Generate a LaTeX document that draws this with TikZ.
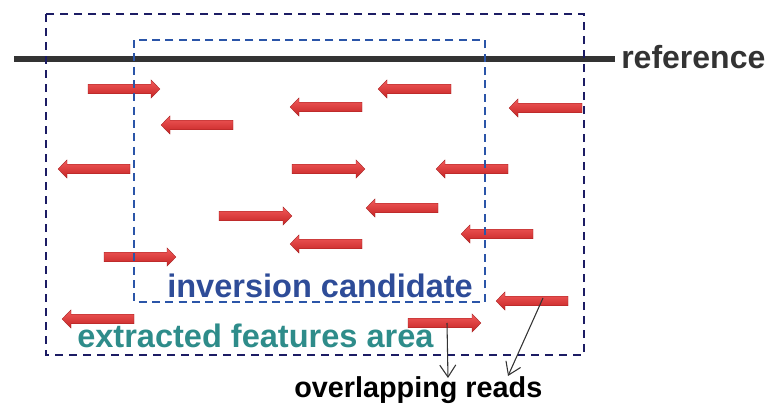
\documentclass[tikz,border=0pt]{standalone}
\usepackage{fontspec}
\setmainfont{Liberation Sans}
\usetikzlibrary{arrows.meta}

\definecolor{refgray}{HTML}{333333}
\definecolor{outernavy}{HTML}{1C1C64}
\definecolor{innerblue}{HTML}{2B55A8}
\definecolor{candblue}{HTML}{2E4C98}
\definecolor{areateal}{HTML}{2E8C8A}
\definecolor{readtop}{HTML}{F25A5A}
\definecolor{readbot}{HTML}{C42424}

\tikzset{
  outerbox/.style={draw=outernavy, line width=1.6pt, dash pattern=on 6pt off 4.5pt},
  innerbox/.style={draw=innerblue, line width=1.2pt, dash pattern=on 6pt off 4pt},
  refline/.style={draw=refgray, line width=4.5pt},
  pointer/.style={draw=refgray, line width=0.8pt, -{Straight Barb[length=9pt,width=12pt,line width=0.8pt]}},
  label/.style={inner sep=0pt, anchor=base west, font=\bfseries},
}

% a read: block arrow from tail x (#1) to tip x (#2) at height #3
\newcommand{\readarrow}[3]{%
  \pgfmathsetmacro\hb{#2>#1 ? #2-9 : #2+9}%
  \shade[top color=readtop, bottom color=readbot, draw=readbot!80!black, line width=0.2pt]
    (#1,#3-4.8) -- (\hb,#3-4.8) -- (\hb,#3-9.2) -- (#2,#3) -- (\hb,#3+9.2)
    -- (\hb,#3+4.8) -- (#1,#3+4.8) -- cycle;
}

\begin{document}
\begin{tikzpicture}[x=0.75pt, y=-0.75pt]
\useasboundingbox (0,0) rectangle (771,407);

% reference genome
\coordinate (refL) at (14,59);
\coordinate (refR) at (615,59);
\draw[refline] (refL) -- (refR);
\node[label, text=refgray, font=\bfseries\fontsize{24}{28}\selectfont] (reflab) at (621,68) {reference};

% reads
\readarrow{88}{160}{89}
\readarrow{233}{161}{125}
\readarrow{362}{290}{107}
\readarrow{451}{378}{89}
\readarrow{582}{509}{108}
\readarrow{130}{58}{169}
\readarrow{292}{365}{169}
\readarrow{508}{436}{169}
\readarrow{438}{366}{208}
\readarrow{219}{292}{216}
\readarrow{362}{290}{244}
\readarrow{533}{461}{234}
\readarrow{104}{176}{257}
\readarrow{568}{496}{301}
\readarrow{408}{481}{323}
\readarrow{134}{62}{319}

% areas
\draw[outerbox] (46,14) rectangle (584,355);
\draw[innerbox] (134,40) rectangle (485,302);

\node[label, text=candblue, font=\bfseries\fontsize{24.4}{28}\selectfont] (cand) at (167,297) {inversion candidate};
\node[label, text=areateal, font=\bfseries\fontsize{24.4}{28}\selectfont] (area) at (77,347) {extracted features area};
\node[label, text=black, font=\bfseries\fontsize{21.6}{26}\selectfont] (ovl) at (294,397) {overlapping reads};

% pointers from two reads to the label
\coordinate (readA) at (447,323);
\coordinate (readB) at (543,298);
\coordinate (ovlA) at (448,378);
\coordinate (ovlB) at (508,376);
\draw[pointer] (readA) -- (ovlA);
\draw[pointer] (readB) -- (ovlB);
\end{tikzpicture}
\end{document}
